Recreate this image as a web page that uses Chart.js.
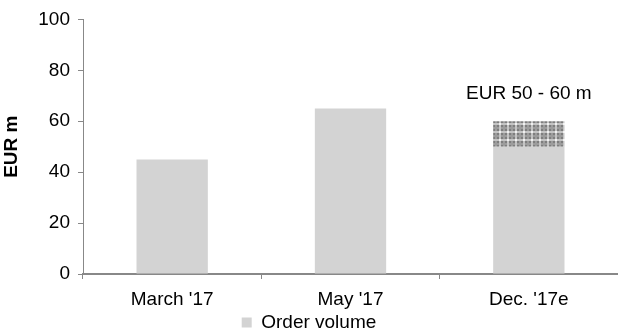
<!DOCTYPE html>
<html>
<head>
<meta charset="utf-8">
<script src="https://cdn.jsdelivr.net/npm/chart.js@4"></script>
<style>
    html, body { margin: 0; padding: 0; background: #fff; }
    #wrap { width: 618px; height: 335px; }
</style>
</head>
<body>
<div id="wrap"><canvas id="orderChart" width="618" height="335"></canvas></div>
<script>
// Data
const categories = ["March '17", "May '17", "Dec. '17e"];
const orderVolume = [45, 65, 50];
const rangeUpper = [0, 0, 10];   // EUR 50 - 60 m range on top of the estimate
const rangeLabel = 'EUR 50 - 60 m';
const yTicks = [0, 20, 40, 60, 80, 100];

// Hatch pattern for the range segment
function makePattern() {
    const c = document.createElement('canvas');
    c.width = 8; c.height = 8;
    const g = c.getContext('2d');
    g.fillStyle = '#9c9c9c';
    g.fillRect(0, 0, 8, 8);
    g.fillStyle = '#7e7e7e';
    g.fillRect(1, 1, 2, 2);
    g.fillRect(5, 5, 2, 2);
    g.fillRect(5, 1, 2, 2);
    g.fillRect(1, 5, 2, 2);
    g.fillStyle = '#c4c4c4';
    g.fillRect(0, 3, 8, 2);
    g.fillRect(3, 0, 2, 8);
    g.fillStyle = '#f0f0f0';
    g.fillRect(3, 3, 2, 2);
    return g.createPattern(c, 'repeat');
}

// Label above the stacked estimate bar
const rangeLabelPlugin = {
    id: 'rangeLabel',
    afterDatasetsDraw(chart) {
        const bar = chart.getDatasetMeta(1).data[2];
        if (!bar) return;
        const ctx = chart.ctx;
        ctx.save();
        ctx.font = '19px "Liberation Sans", Arial, sans-serif';
        ctx.fillStyle = '#000';
        ctx.textAlign = 'center';
        ctx.textBaseline = 'middle';
        ctx.fillText(rangeLabel, bar.x, bar.y - 27);
        ctx.restore();
    }
};

Chart.defaults.font.family = '"Liberation Sans", Arial, sans-serif';
Chart.defaults.color = '#000';

new Chart(document.getElementById('orderChart'), {
    type: 'bar',
    data: {
        labels: categories,
        datasets: [
            {
                label: 'Order volume',
                data: orderVolume,
                backgroundColor: '#d3d3d3',
                categoryPercentage: 1,
                barPercentage: 0.4
            },
            {
                label: 'Range',
                data: rangeUpper,
                backgroundColor: makePattern(),
                categoryPercentage: 1,
                barPercentage: 0.4
            }
        ]
    },
    options: {
        responsive: false,
        animation: false,
        layout: { padding: { top: 3, right: 0, left: 0, bottom: -7 } },
        plugins: {
            tooltip: { enabled: false },
            legend: {
                position: 'bottom',
                labels: {
                    filter: item => item.datasetIndex === 0,
                    boxWidth: 10,
                    boxHeight: 10,
                    padding: 2,
                    font: { size: 19 }
                }
            }
        },
        scales: {
            x: {
                stacked: true,
                offset: true,
                grid: { display: true, drawOnChartArea: false, offset: true, color: '#888', tickLength: 5 },
                border: { color: '#888', width: 2 },
                ticks: { font: { size: 19 }, padding: 9 },
                afterFit: s => { s.height = 37; }
            },
            y: {
                stacked: true,
                min: 0,
                max: 100,
                afterBuildTicks: s => { s.ticks = yTicks.map(v => ({ value: v })); },
                grid: { display: true, drawOnChartArea: false, color: '#888', tickLength: 5 },
                border: { color: '#888', width: 1 },
                ticks: { font: { size: 19 }, padding: 8 },
                title: { display: true, text: 'EUR m', font: { size: 19, weight: 'bold' }, padding: { top: 0, bottom: 8 } },
                afterFit: s => { s.width = 83; }
            }
        }
    },
    plugins: [rangeLabelPlugin]
});
</script>
</body>
</html>
